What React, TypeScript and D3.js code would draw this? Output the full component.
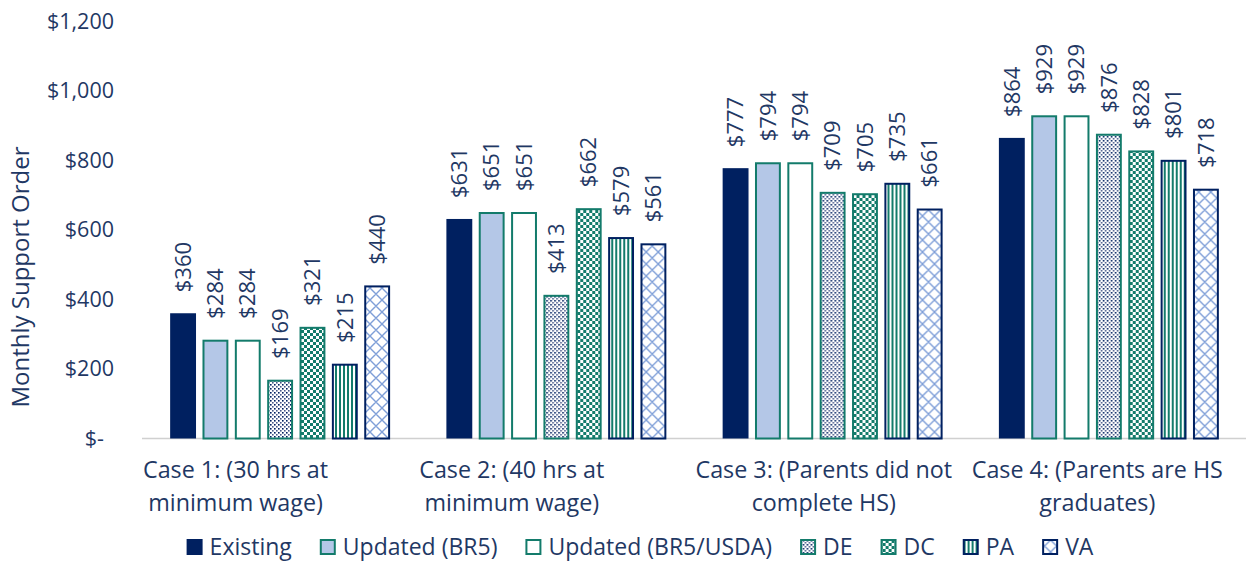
import React, { useEffect, useRef } from "react";
import * as d3 from "d3";

const categories = [
  ["Case 1: (30 hrs at", "minimum wage)"],
  ["Case 2: (40 hrs at", "minimum wage)"],
  ["Case 3: (Parents did not", "complete HS)"],
  ["Case 4: (Parents are HS", "graduates)"],
];
const seriesNames = ["Existing", "Updated (BR5)", "Updated (BR5/USDA)", "DE", "DC", "PA", "VA"];
const existing = [360, 631, 777, 864];
const updatedBR5 = [284, 651, 794, 929];
const updatedUSDA = [284, 651, 794, 929];
const de = [169, 413, 709, 876];
const dc = [321, 662, 705, 828];
const pa = [215, 579, 735, 801];
const va = [440, 561, 661, 718];
const seriesValues = [existing, updatedBR5, updatedUSDA, de, dc, pa, va];
const yTicks = [0, 200, 400, 600, 800, 1000, 1200];

const W = 1246, H = 562;
const NAVY = "#002060";
const TEXT = "#1F3864";
const TEAL = "#137B6B";
const LIGHT = "#B4C7E7";
const LATTICE = "#7F9FD8";
const FONT = "'Open Sans', sans-serif";

const styles = [
  { fill: NAVY, stroke: "none" },
  { fill: LIGHT, stroke: TEAL },
  { fill: "#FFFFFF", stroke: TEAL },
  { fill: "url(#pDE)", stroke: TEAL },
  { fill: "url(#pDC)", stroke: TEAL },
  { fill: "url(#pPA)", stroke: NAVY },
  { fill: "url(#pVA)", stroke: NAVY },
];

export default function App() {
  const ref = useRef<SVGSVGElement | null>(null);
  useEffect(() => {
    const svg = d3.select(ref.current);
    svg.selectAll("*").remove();
    const defs = svg.append("defs");
    const pDE = defs.append("pattern").attr("id", "pDE").attr("patternUnits", "userSpaceOnUse").attr("width", 4).attr("height", 4);
    pDE.append("rect").attr("width", 4).attr("height", 4).attr("fill", "#fff");
    pDE.append("rect").attr("x", 0).attr("y", 0).attr("width", 1.6).attr("height", 1.6).attr("fill", NAVY);
    pDE.append("rect").attr("x", 2).attr("y", 2).attr("width", 1.6).attr("height", 1.6).attr("fill", "#4a5a8a");
    const pDC = defs.append("pattern").attr("id", "pDC").attr("patternUnits", "userSpaceOnUse").attr("width", 6).attr("height", 6);
    pDC.append("rect").attr("width", 6).attr("height", 6).attr("fill", TEAL);
    pDC.append("rect").attr("x", 0).attr("y", 0).attr("width", 3).attr("height", 3).attr("fill", "#fff");
    pDC.append("rect").attr("x", 3).attr("y", 3).attr("width", 3).attr("height", 3).attr("fill", "#fff");
    const pPA = defs.append("pattern").attr("id", "pPA").attr("patternUnits", "userSpaceOnUse").attr("width", 4).attr("height", 4);
    pPA.append("rect").attr("width", 4).attr("height", 4).attr("fill", "#fff");
    pPA.append("rect").attr("x", 1).attr("width", 2).attr("height", 4).attr("fill", TEAL);
    const pVA = defs.append("pattern").attr("id", "pVA").attr("patternUnits", "userSpaceOnUse").attr("width", 12).attr("height", 12);
    pVA.append("rect").attr("width", 12).attr("height", 12).attr("fill", "#fff");
    pVA.append("path").attr("d", "M0,0L12,12M12,0L0,12M-6,6L6,18M6,-6L18,6M6,-6L-6,6M18,6L6,18").attr("stroke", LATTICE).attr("stroke-width", 1.4).attr("fill", "none");

    const x0 = d3.scaleBand<number>().domain(d3.range(categories.length)).range([142, 1247]).padding(0);
    const x1 = d3.scaleBand<number>().domain(d3.range(seriesNames.length)).range([0, x0.step()]).paddingInner(0.2).paddingOuter(0.87);
    const y = d3.scaleLinear().domain([0, 1200]).range([438.5, 21]);

    svg.append("g").selectAll("text").data(yTicks).join("text")
      .attr("x", 114).attr("y", (d) => y(d)).attr("dy", "0.35em")
      .attr("text-anchor", "end").attr("font-family", FONT).attr("font-size", 21.5).attr("fill", TEXT)
      .text((d) => (d === 0 ? "$-" : d3.format("$,")(d)))
      .attr("dx", (d) => (d === 0 ? -10 : 0));

    svg.append("text").attr("transform", `translate(21,277) rotate(-90)`)
      .attr("text-anchor", "middle").attr("dy", "0.35em").attr("font-family", FONT).attr("font-size", 24).attr("fill", TEXT)
      .text("Monthly Support Order");

    svg.append("line").attr("x1", x0.range()[0]).attr("x2", x0.range()[1]).attr("y1", y(0)).attr("y2", y(0))
      .attr("stroke", "#D0D0D0").attr("stroke-width", 1.5);

    const groups = svg.append("g").selectAll("g").data(categories.map((_, i) => i)).join("g")
      .attr("transform", (i) => `translate(${x0(i)},0)`);
    groups.each(function (ci) {
      const g = d3.select(this);
      seriesValues.forEach((vals, si) => {
        const st = styles[si];
        const v = vals[ci];
        const sw = st.stroke === "none" ? 0 : 2;
        g.append("rect")
          .attr("x", (x1(si) as number) + sw / 2).attr("y", y(v) + sw / 2)
          .attr("width", x1.bandwidth() - sw).attr("height", y(0) - y(v) - sw / 2)
          .attr("fill", st.fill).attr("stroke", st.stroke).attr("stroke-width", sw);
        const cx = (x1(si) as number) + x1.bandwidth() / 2;
        g.append("text").attr("transform", `translate(${cx},${y(v) - 21}) rotate(-90)`)
          .attr("dy", "0.35em").attr("font-family", FONT).attr("font-size", 22).attr("fill", TEXT)
          .text(d3.format("$,")(v));
      });
    });

    categories.forEach((lines, ci) => {
      const g = svg.append("g");
      const texts = lines.map((l, li) => g.append("text").attr("y", 470 + li * 33).attr("dy", "0.35em")
        .attr("font-family", FONT).attr("font-size", 23.3).attr("fill", TEXT).attr("text-anchor", "middle").text(l));
      const widths = texts.map((t) => (t.node() as SVGTextElement).getComputedTextLength());
      const bw = Math.max(...widths);
      texts.forEach((t) => t.attr("x", (x0(ci) as number) + 1 + bw / 2));
    });

    const leg = svg.append("g");
    let cx = 0;
    const ly = 547;
    seriesNames.forEach((name, si) => {
      const st = styles[si];
      const sw = st.stroke === "none" ? 0 : 2;
      leg.append("rect").attr("x", cx + sw / 2).attr("y", ly - 8 + sw / 2).attr("width", 16 - sw).attr("height", 16 - sw)
        .attr("fill", st.fill).attr("stroke", st.stroke).attr("stroke-width", sw);
      const t = leg.append("text").attr("x", cx + 23).attr("y", ly).attr("dy", "0.35em")
        .attr("font-family", FONT).attr("font-size", 23).attr("fill", TEXT).text(name);
      const tw = (t.node() as SVGTextElement).getComputedTextLength();
      cx += 23 + tw + 28;
    });
    const total = cx - 28;
    leg.attr("transform", `translate(${640 - total / 2},0)`);
  }, []);
  return (
    <svg ref={ref} width={W} height={H} style={{ position: "absolute", left: 0, top: 0, background: "#fff" }} />
  );
}
